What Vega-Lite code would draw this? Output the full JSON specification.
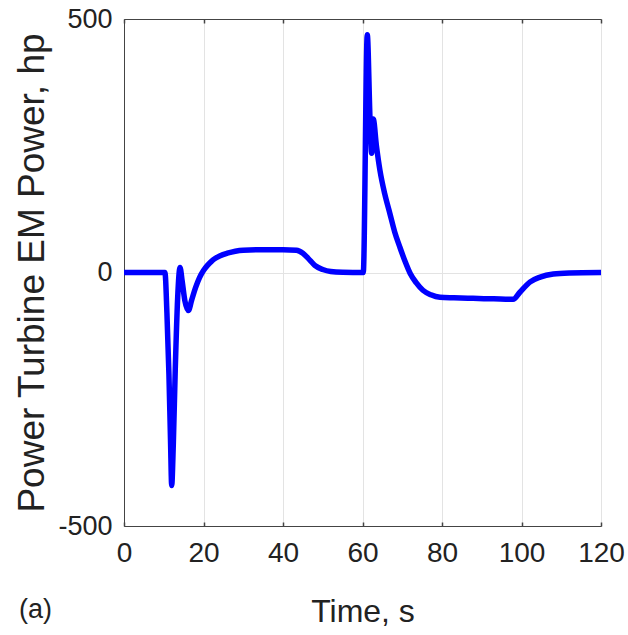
{
  "$schema": "https://vega.github.io/schema/vega-lite/v6.json",
  "width": 477,
  "height": 507,
  "autosize": {"type": "none"},
  "padding": {"left": 124, "top": 19, "right": 27, "bottom": 109},
  "background": "white",
  "title": {"text": "(a)", "orient": "bottom", "anchor": "start", "frame": "bounds", "font": "Liberation Sans", "fontSize": 27, "fontWeight": "normal", "color": "#222", "dx": 5, "dy": -30, "offset": 0},
  "config": {"view": {"stroke": "#444", "strokeWidth": 1}},
  "data": {"values": [
    {"t": 0, "p": 0}, {"t": 5, "p": 0}, {"t": 10.3, "p": 0}, {"t": 10.8, "p": -80}, {"t": 11.3, "p": -200},
    {"t": 11.7, "p": -330}, {"t": 12.0, "p": -420}, {"t": 12.4, "p": -340}, {"t": 12.9, "p": -190},
    {"t": 13.5, "p": -50}, {"t": 14.1, "p": 10}, {"t": 14.6, "p": -15}, {"t": 15.3, "p": -55},
    {"t": 16.2, "p": -75}, {"t": 17.0, "p": -55}, {"t": 18.0, "p": -30}, {"t": 19.0, "p": -10},
    {"t": 20.0, "p": 4}, {"t": 21, "p": 14}, {"t": 22, "p": 22}, {"t": 23, "p": 28}, {"t": 24.2, "p": 33},
    {"t": 26, "p": 38}, {"t": 28, "p": 42}, {"t": 30, "p": 44}, {"t": 35, "p": 45}, {"t": 40, "p": 45},
    {"t": 43.4, "p": 44}, {"t": 45, "p": 38}, {"t": 46.8, "p": 24}, {"t": 48, "p": 14}, {"t": 50, "p": 6},
    {"t": 52, "p": 2}, {"t": 55, "p": 0.5}, {"t": 60.2, "p": 0}, {"t": 61.2, "p": 469}, {"t": 61.9, "p": 300},
    {"t": 62.3, "p": 235}, {"t": 62.7, "p": 303}, {"t": 63.5, "p": 250}, {"t": 64.4, "p": 201}, {"t": 65.6, "p": 155},
    {"t": 66.9, "p": 116}, {"t": 68.1, "p": 80}, {"t": 69.4, "p": 50}, {"t": 70.7, "p": 22}, {"t": 72, "p": -2},
    {"t": 73.5, "p": -20}, {"t": 75.2, "p": -35}, {"t": 77.2, "p": -44}, {"t": 79.5, "p": -49}, {"t": 83, "p": -50},
    {"t": 87.8, "p": -51}, {"t": 93, "p": -52}, {"t": 97.9, "p": -53}, {"t": 99.6, "p": -39}, {"t": 102.1, "p": -19},
    {"t": 104.7, "p": -9}, {"t": 108, "p": -3}, {"t": 112, "p": -1}, {"t": 120, "p": 0}
  ]},
  "layer": [
    {
      "mark": {"type": "point", "opacity": 0},
      "encoding": {
        "x": {"field": "t", "type": "quantitative", "scale": {"domain": [0, 120], "nice": false},
          "axis": {"orient": "top", "title": null, "labels": false, "values": [0, 20, 40, 60, 80, 100, 120], "grid": false,
            "domainColor": "#444", "tickColor": "#444", "tickSize": -4, "tickWidth": 1.5}},
        "y": {"field": "p", "type": "quantitative", "scale": {"domain": [-500, 500], "nice": false},
          "axis": {"title": "Power Turbine EM Power, hp", "values": [-500, 0, 500], "grid": true, "gridColor": "#e3e3e3", "gridWidth": 1,
            "domainColor": "#444", "tickColor": "#444", "tickSize": 0, "labelFont": "Liberation Sans", "labelFontSize": 27,
            "labelColor": "#222", "labelPadding": 12, "titleFont": "Liberation Sans", "titleFontSize": 37, "titleFontWeight": "normal",
            "titleColor": "#222", "titlePadding": 6, "labelFlush": false,
            "labelExpr": "replace(datum.label, '\u2212', '-')"}}
      }
    },
    {
      "mark": {"type": "line", "color": "#0000ff", "strokeWidth": 5.5, "strokeJoin": "round", "strokeCap": "round", "clip": true, "interpolate": "monotone"},
      "encoding": {
        "x": {"field": "t", "type": "quantitative", "scale": {"domain": [0, 120], "nice": false},
          "axis": {"orient": "bottom", "title": "Time, s", "values": [0, 20, 40, 60, 80, 100, 120], "grid": true, "gridColor": "#e3e3e3", "gridWidth": 1,
            "domainColor": "#444", "tickColor": "#444", "tickSize": -4, "tickWidth": 1.5, "labelFont": "Liberation Sans", "labelFontSize": 28,
            "labelColor": "#222", "labelPadding": 17, "titleFont": "Liberation Sans", "titleFontSize": 32, "titleFontWeight": "normal",
            "titleColor": "#222", "titlePadding": 29, "labelFlush": false}},
        "y": {"field": "p", "type": "quantitative", "scale": {"domain": [-500, 500], "nice": false},
          "axis": {"title": "Power Turbine EM Power, hp", "values": [-500, 0, 500], "grid": true, "gridColor": "#e3e3e3", "gridWidth": 1,
            "domainColor": "#444", "tickColor": "#444", "tickSize": 0, "labelFont": "Liberation Sans", "labelFontSize": 27,
            "labelColor": "#222", "labelPadding": 12, "titleFont": "Liberation Sans", "titleFontSize": 37, "titleFontWeight": "normal",
            "titleColor": "#222", "titlePadding": 6, "labelFlush": false,
            "labelExpr": "replace(datum.label, '\u2212', '-')"}}
      }
    }
  ],
  "resolve": {"axis": {"x": "independent"}}
}
